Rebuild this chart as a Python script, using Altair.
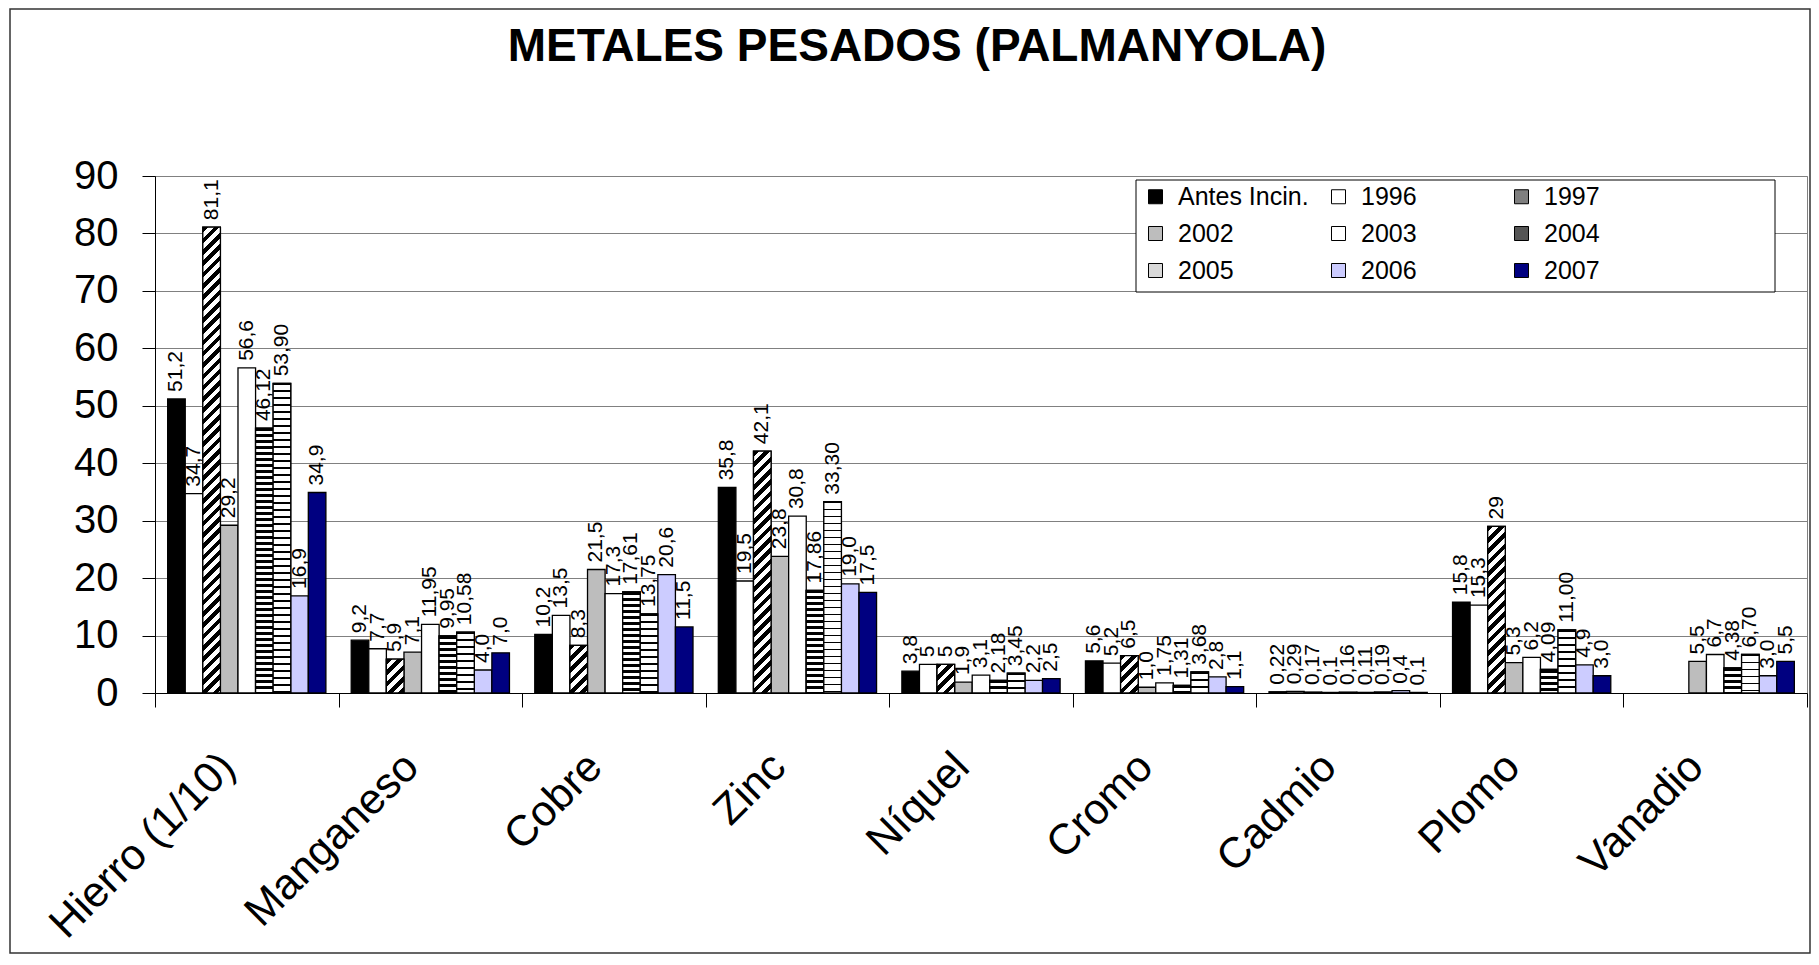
import math
import altair as alt
import pandas as pd

FONT = "Liberation Sans"

metales = ["Hierro (1/10)", "Manganeso", "Cobre", "Zinc", "Níquel",
           "Cromo", "Cadmio", "Plomo", "Vanadio"]
series = ["Antes Incin.", "1996", "1997", "2002", "2003",
          "2004", "2005", "2006", "2007"]

# values as printed on the chart (decimal comma); None = no data
antes = ["51,2", "9,2", "10,2", "35,8", "3,8", "5,6", "0,22", "15,8", None]
y1996 = ["34,7", "7,7", "13,5", "19,5", "5", "5,2", "0,29", "15,3", None]
y1997 = ["81,1", "5,9", "8,3", "42,1", "5", "6,5", "0,17", "29", None]
y2002 = ["29,2", "7,1", "21,5", "23,8", "1,9", "1,0", "0,1", "5,3", "5,5"]
y2003 = ["56,6", "11,95", "17,3", "30,8", "3,1", "1,75", "0,16", "6,2", "6,7"]
y2004 = ["46,12", "9,95", "17,61", "17,86", "2,18", "1,31", "0,11", "4,09", "4,38"]
y2005 = ["53,90", "10,58", "13,75", "33,30", "3,45", "3,68", "0,19", "11,00", "6,70"]
y2006 = ["16,9", "4,0", "20,6", "19,0", "2,2", "2,8", "0,4", "4,9", "3,0"]
y2007 = ["34,9", "7,0", "11,5", "17,5", "2,5", "1,1", "0,1", "3,0", "5,5"]

all_series = [antes, y1996, y1997, y2002, y2003, y2004, y2005, y2006, y2007]

rows = []
for s, vals in zip(series, all_series):
    for m, v in zip(metales, vals):
        if v is None:
            continue
        rows.append({"Metal": m, "Serie": s, "Etiqueta": v,
                     "Valor": float(v.replace(",", "."))})
df = pd.DataFrame(rows)

# ---- styling ----
W, H = 1652, 517
Y_MAX = 90
PAD_OUT = 0.72
PX_PER_UNIT = H / Y_MAX
BAR_W = (W / len(metales)) / (len(series) + 2 * PAD_OUT)

fills = ["#000000", "#FFFFFF", "#7F7F7F", "#BDBDBD", "#FFFFFF",
         "#555555", "#D9D9D9", "#CCCCFF", "#000080"]
# legend is laid out column by column: reorder so it reads row by row
legend_idx = [0, 3, 6, 1, 4, 7, 2, 5, 8]
legend_domain = [series[i] for i in legend_idx]
legend_range = [fills[i] for i in legend_idx]


def stripe_stops(limit, denom, period, frac, on="#000000", off="#FFFFFF"):
    stops = []
    k = 0
    while k * period < limit:
        a = k * period
        b = min(a + frac * period, limit)
        c = min(a + period, limit)
        for px, col in ((a, on), (b, on), (b, off), (c, off)):
            stops.append({"offset": round(min(px / denom, 1.0), 5), "color": col})
        k += 1
    return stops


def horiz_grad(h, period, frac):
    return {"gradient": "linear", "x1": 0, "y1": 0, "x2": 0, "y2": 1,
            "stops": stripe_stops(h, h, period, frac)}


def diag_grad(h, w, period_perp, frac):
    denom = (w * w + h * h) / w
    return {"gradient": "linear", "x1": 0, "y1": 0, "x2": 1, "y2": round(h / w, 4),
            "stops": stripe_stops(w + h, denom, period_perp * math.sqrt(2), frac)}


X = alt.X("Metal:N", scale=alt.Scale(domain=metales, paddingInner=0, paddingOuter=0),
          axis=alt.Axis(title=None, labelAngle=-45, labelAlign="right", labelBaseline="top",
                        labelFontSize=43, labelFont=FONT, labelColor="black",
                        labelPadding=38, labelOffset=-34, tickBand="extent",
                        tickSize=14, tickColor="black", domainColor="black",
                        labelLimit=0))
XO = alt.XOffset("Serie:N", scale=alt.Scale(domain=series, paddingInner=0,
                                            paddingOuter=PAD_OUT))
Y = alt.Y("Valor:Q", scale=alt.Scale(domain=[0, Y_MAX], nice=False),
          axis=alt.Axis(title=None, values=list(range(0, 91, 10)), labelFontSize=40,
                        labelFont=FONT, labelColor="black", labelPadding=24,
                        tickSize=13, tickColor="black", domainColor="black",
                        grid=True, gridColor="#808080", gridWidth=1))

one_row = alt.Data(values=[{"a": 1}])

frame = alt.Chart(one_row).mark_rect(
    filled=False, stroke="#333333", strokeWidth=1.5
).encode(x=alt.value(-145), x2=alt.value(1655), y=alt.value(-167), y2=alt.value(777))

legend_box = alt.Chart(one_row).mark_rect(
    fill="white", stroke="black", strokeWidth=1
).encode(x=alt.value(981), x2=alt.value(1620), y=alt.value(4), y2=alt.value(116))

base = alt.Chart().mark_bar(stroke="black", strokeWidth=1.3).encode(
    x=X, xOffset=XO, y=Y,
    color=alt.Color("Serie:N", scale=alt.Scale(domain=legend_domain, range=legend_range),
                    legend=alt.Legend(title=None, orient="none", legendX=981, legendY=4,
                                      columns=3, gridAlign="all", columnPadding=14,
                                      rowPadding=11, padding=4, symbolOffset=3,
                                      labelOffset=10, symbolType="square",
                                      symbolSize=196, symbolStrokeColor="black",
                                      symbolStrokeWidth=1, labelFontSize=25,
                                      labelFont=FONT, labelColor="black",
                                      labelLimit=0))
)

overlays = []
for _, r in df.iterrows():
    h = r["Valor"] * PX_PER_UNIT
    if h < 2:
        continue
    if r["Serie"] == "1997":
        g = diag_grad(h, BAR_W, 8, 0.5)
    elif r["Serie"] == "2004":
        g = horiz_grad(h, 6, 0.5)
    elif r["Serie"] == "2005":
        g = horiz_grad(h, 7, 0.25)
    else:
        continue
    overlays.append(
        alt.Chart().mark_bar(fill=g, stroke="black", strokeWidth=1.3).encode(
            x=X, xOffset=XO, y=Y
        ).transform_filter(
            f"datum.Serie == '{r['Serie']}' && datum.Metal == '{r['Metal']}'"
        )
    )

labels = alt.Chart().mark_text(angle=270, align="left", baseline="middle", dx=7,
                               fontSize=21, font=FONT, color="black").encode(
    x=X, xOffset=XO, y=Y, text="Etiqueta:N"
)

chart = alt.layer(frame, base, *overlays, labels, legend_box, data=df).properties(
    width=W, height=H,
    autosize=alt.AutoSizeParams(type="none"),
    padding={"left": 147, "top": 168, "right": 4, "bottom": 262},
    title=alt.Title("METALES PESADOS (PALMANYOLA)", fontSize=46, font=FONT,
                    fontWeight="bold", color="black", anchor="middle", frame="bounds",
                    dx=7, offset=-99, baseline="alphabetic"),
    background="white",
).configure_view(stroke="#808080", strokeWidth=1)

chart.save("out.html", embed_options={"renderer": "svg", "actions": False})
